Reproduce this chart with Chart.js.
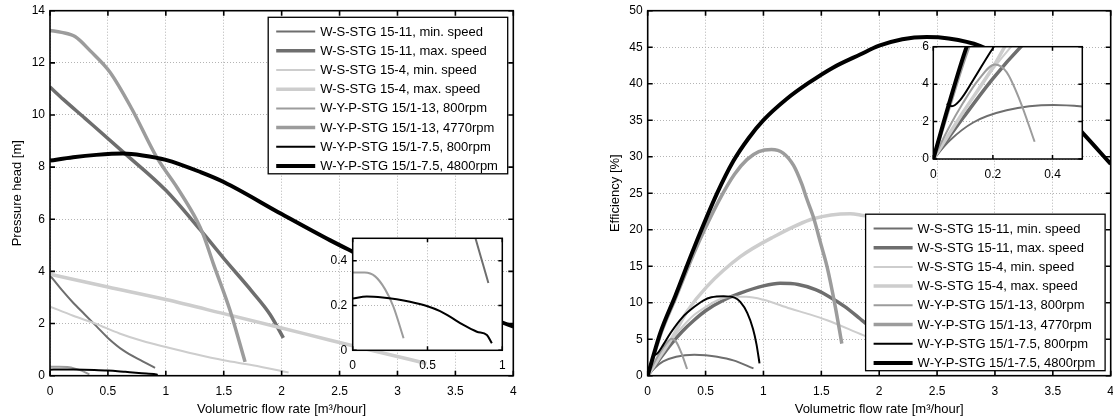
<!DOCTYPE html>
<html>
<head>
<meta charset="utf-8">
<script src="https://cdn.jsdelivr.net/npm/chart.js@4/dist/chart.umd.min.js"></script>
<style>
  body { margin: 0; background: #fff; width: 1113px; height: 419px; position: relative; overflow: hidden; }
  canvas { position: absolute; }
  #head { left: 0; top: 0; }
  #eff { left: 556px; top: 0; }
  #headInset { left: 322px; top: 230px; }
  #effInset { left: 900px; top: 38px; }
</style>
</head>
<body>
<canvas id="head" width="556" height="419"></canvas>
<canvas id="eff" width="557" height="419"></canvas>
<canvas id="headInset" width="190" height="145"></canvas>
<canvas id="effInset" width="195" height="150"></canvas>
<script>
// pump names (legend entries)
const seriesLabels = [
    'W-S-STG 15-11, min. speed',
    'W-S-STG 15-11, max. speed',
    'W-S-STG 15-4, min. speed',
    'W-S-STG 15-4, max. speed',
    'W-Y-P-STG 15/1-13, 800rpm',
    'W-Y-P-STG 15/1-13, 4770rpm',
    'W-Y-P-STG 15/1-7.5, 800rpm',
    'W-Y-P-STG 15/1-7.5, 4800rpm'
];

// pressure head [m] vs flow [m3/h] as [flow, head]
const headS1 = [[0,3.85],[0.1,3.3],[0.2,2.8],[0.3,2.35],[0.4,1.9],[0.5,1.45],[0.633,0.97],[0.8,0.55],[0.907,0.3]];
const headS2 = [[0,11.07],[0.115,10.6],[0.3,9.88],[0.65,8.51],[1.0,7.11],[1.3,5.58],[1.5,4.5],[1.75,3.2],[1.9,2.35],[2.015,1.45]];
const headS3 = [[0,2.65],[0.2,2.3],[0.39,2.0],[0.6,1.62],[0.8,1.33],[1.0,1.1],[1.25,0.83],[1.5,0.59],[1.75,0.4],[2.06,0.12]];
const headS4 = [[0,3.89],[0.5,3.4],[1.0,2.92],[1.5,2.38],[2.0,1.83],[2.42,1.36],[2.8,0.95],[3.25,0.47]];
const headS5 = [[0,0.347],[0.08,0.347],[0.15,0.33],[0.217,0.272],[0.272,0.195],[0.34,0.054]];
const headS6 = [[0,13.24],[0.1,13.17],[0.216,13.01],[0.35,12.45],[0.518,11.64],[0.706,10.24],[0.921,8.38],[1.1,7.2],[1.267,5.96],[1.324,5.4],[1.41,4.3],[1.554,2.51],[1.684,0.53]];
const headS7 = [[0,0.231],[0.094,0.24],[0.2,0.236],[0.294,0.228],[0.383,0.217],[0.495,0.198],[0.584,0.175],[0.65,0.15],[0.74,0.113],[0.83,0.083],[0.897,0.068],[0.93,0.031]];
const headS8 = [[0,8.25],[0.2,8.38],[0.4,8.47],[0.63,8.52],[0.8,8.45],[1.0,8.28],[1.3,7.81],[1.5,7.43],[2.0,6.2],[2.42,5.19],[2.62,4.74],[3.0,3.9],[3.5,2.85],[3.9,2.05],[4.0,1.88]];

// efficiency [%] vs flow [m3/h]
const effS1 = [[0,0],[0.056,1.0],[0.134,1.95],[0.246,2.6],[0.403,2.88],[0.5,2.8],[0.6,2.6],[0.74,2.1],[0.914,1.0]];
const effS2 = [[0,0],[0.1,2.2],[0.2,4.3],[0.3,6.1],[0.4,7.6],[0.5,8.9],[0.65,10.3],[0.8,11.3],[1.0,12.3],[1.144,12.65],[1.3,12.5],[1.45,11.8],[1.55,11.0],[1.7,9.5],[1.835,7.8],[1.95,6.3],[2.02,5.3]];
const effS3 = [[0,0],[0.1,2.5],[0.2,4.8],[0.3,6.7],[0.4,8.3],[0.5,9.4],[0.6,10.3],[0.712,10.8],[0.85,10.8],[1.0,10.4],[1.23,9.2],[1.4,8.4],[1.55,7.6],[1.86,5.56],[2.06,4.3]];
const effS4 = [[0,0],[0.1,2.5],[0.2,4.9],[0.34,8.8],[0.511,12.2],[0.8,16.3],[1.086,19.0],[1.43,21.5],[1.75,22.2],[1.86,21.95],[2.0,21.6],[2.3,20.3],[2.6,18.0],[2.9,14.5],[3.25,9.0]];
const effS5 = [[0,0],[0.05,1.6],[0.1,3.0],[0.15,4.2],[0.207,5.05],[0.246,4.64],[0.29,3.15],[0.34,0.92]];
const effS6 = [[0,0],[0.05,2.6],[0.112,5.7],[0.24,10.6],[0.4,16.8],[0.5,20.3],[0.626,24.3],[0.75,27.6],[0.857,29.6],[0.96,30.7],[1.07,31.0],[1.17,30.5],[1.26,28.8],[1.33,26.3],[1.375,24.2],[1.43,21.8],[1.5,17.8],[1.55,14.9],[1.62,9.5],[1.677,4.4]];
const effS7 = [[0.045,2.96],[0.062,2.82],[0.09,3.15],[0.134,4.22],[0.2,5.92],[0.3,8.0],[0.4,9.4],[0.48,10.3],[0.55,10.75],[0.655,10.9],[0.75,10.7],[0.8,10.1],[0.86,8.6],[0.91,6.4],[0.94,4.3],[0.966,1.7]];
const effS8 = [[0,0],[0.05,2.8],[0.112,6],[0.24,11],[0.4,17.5],[0.6,25],[0.74,29.4],[0.87,32.5],[1.0,35],[1.2,37.9],[1.39,40.1],[1.6,42.2],[1.835,44],[2.0,45.2],[2.2,46.1],[2.41,46.4],[2.6,46.2],[2.87,45.2],[3.1,43.2],[3.4,39.2],[3.755,33.3],[4.0,29.0]];

// tick labels
const flowTicks = [0, 0.5, 1, 1.5, 2, 2.5, 3, 3.5, 4];
const headTicks = [0, 2, 4, 6, 8, 10, 12, 14];
const effTicks = [0, 5, 10, 15, 20, 25, 30, 35, 40, 45, 50];
const headInsetFlowTicks = [0, 0.5, 1];
const headInsetTicks = [0, 0.2, 0.4];
const effInsetFlowTicks = [0, 0.2, 0.4];
const effInsetTicks = [0, 2, 4, 6];

const headSeries = [headS1, headS2, headS3, headS4, headS5, headS6, headS7, headS8];
const effSeries = [effS1, effS2, effS3, effS4, effS5, effS6, effS7, effS8];

const FONT = '"Liberation Sans", Arial, Helvetica, sans-serif';
const GRID = '#b4b4b4';
const lineColors = ['#6e6e6e', '#6e6e6e', '#cdcdcd', '#cdcdcd', '#9c9c9c', '#9c9c9c', '#000000', '#000000'];
const lineWidths = [2, 3.5, 2, 3.5, 2, 3.5, 2, 4];

function makeDatasets(series, clip) {
    return series.map((pts, i) => ({
        label: seriesLabels[i],
        data: pts.map(p => ({ x: p[0], y: p[1] })),
        showLine: true,
        borderColor: lineColors[i],
        borderWidth: lineWidths[i],
        pointRadius: 0,
        fill: false,
        cubicInterpolationMode: 'monotone',
        order: series.length - i,
        clip: clip
    }));
}

function axis(min, max, ticks, o) {
    return {
        type: 'linear',
        min: min,
        max: max,
        afterBuildTicks: s => { s.ticks = ticks.map(v => ({ value: v })); },
        grid: { color: GRID, lineWidth: 1, drawTicks: false },
        border: { display: false, dash: [1, 2] },
        ticks: {
            color: '#000', padding: o.pad, font: { family: FONT, size: 12 },
            maxRotation: 0, autoSkip: false,
            callback: v => String(v)
        },
        title: o.title
            ? { display: true, text: o.title, color: '#000', font: { family: FONT, size: 13 }, padding: o.tpad }
            : { display: false },
        afterFit: s => {
            if (s.isHorizontal()) s.height = o.size; else s.width = o.size;
            s.paddingLeft = 0; s.paddingRight = 0; s.paddingTop = 0; s.paddingBottom = 0;
        }
    };
}

// black box round the axes with inward tick marks on all four sides
const framePlugin = {
    id: 'frame',
    beforeDraw(chart, args, opts) {
        if (!opts.fill) return;
        const a = chart.chartArea;
        chart.ctx.save();
        chart.ctx.fillStyle = '#fff';
        chart.ctx.fillRect(a.left, a.top, a.width, a.height);
        chart.ctx.restore();
    },
    afterDatasetsDraw(chart, args, opts) {
        const { ctx, chartArea: a, scales: { x, y } } = chart;
        const t = opts.tick;
        ctx.save();
        ctx.strokeStyle = '#000';
        ctx.lineWidth = opts.width;
        ctx.beginPath();
        x.ticks.forEach(tk => {
            const px = x.getPixelForValue(tk.value);
            ctx.moveTo(px, a.bottom); ctx.lineTo(px, a.bottom - t);
            ctx.moveTo(px, a.top); ctx.lineTo(px, a.top + t);
        });
        y.ticks.forEach(tk => {
            const py = y.getPixelForValue(tk.value);
            ctx.moveTo(a.left, py); ctx.lineTo(a.left + t, py);
            ctx.moveTo(a.right, py); ctx.lineTo(a.right - t, py);
        });
        ctx.stroke();
        ctx.strokeRect(a.left, a.top, a.width, a.height);
        ctx.restore();
    }
};

// MATLAB style legend box inside the axes
const boxLegend = {
    id: 'boxLegend',
    afterDraw(chart, args, opts) {
        if (!opts.corner) return;
        const { ctx, chartArea: a } = chart;
        const w = 239.5, h = 156.5;
        const left = a.right - 5.6 - w;
        const top = opts.corner === 'ne' ? a.top + 6.6 : a.bottom - 5 - h;
        ctx.save();
        ctx.fillStyle = '#fff';
        ctx.fillRect(left, top, w, h);
        ctx.strokeStyle = '#000';
        ctx.lineWidth = 1.3;
        ctx.strokeRect(left, top, w, h);
        ctx.font = '13px ' + FONT;
        ctx.textBaseline = 'middle';
        chart.data.datasets.forEach((ds, i) => {
            const yy = top + 14.3 + i * 19.2;
            ctx.beginPath();
            ctx.strokeStyle = ds.borderColor;
            ctx.lineWidth = ds.borderWidth;
            ctx.moveTo(left + 8, yy);
            ctx.lineTo(left + 47, yy);
            ctx.stroke();
            ctx.fillStyle = '#000';
            ctx.fillText(ds.label, left + 52, yy + 0.5);
        });
        ctx.restore();
    }
};

function makeChart(id, datasets, xAxis, yAxis, padding, frame, corner) {
    return new Chart(document.getElementById(id), {
        type: 'scatter',
        data: { datasets: datasets },
        options: {
            responsive: false,
            animation: false,
            devicePixelRatio: 1,
            locale: 'en-US',
            events: [],
            layout: { padding: padding },
            scales: { x: xAxis, y: yAxis },
            plugins: {
                legend: { display: false },
                tooltip: { enabled: false },
                frame: frame,
                boxLegend: { corner: corner }
            }
        },
        plugins: [framePlugin, boxLegend]
    });
}

const xTitle = 'Volumetric flow rate [m³/hour]';

makeChart('head', makeDatasets(headSeries, undefined),
    axis(0, 4, flowTicks, { pad: 8.8, size: 43.3, title: xTitle, tpad: { top: 0, bottom: 2.2 } }),
    axis(0, 14, headTicks, { pad: 5, size: 50, title: 'Pressure head [m]', tpad: { top: 10, bottom: 0 } }),
    { top: 10.7, right: 42.7, bottom: 0, left: 0 },
    { width: 1.6, tick: 5, fill: false }, 'ne');

makeChart('eff', makeDatasets(effSeries, undefined),
    axis(0, 4, flowTicks, { pad: 8.8, size: 43.3, title: xTitle, tpad: { top: 0, bottom: 2.2 } }),
    axis(0, 50, effTicks, { pad: 5, size: 91.7, title: 'Efficiency [%]', tpad: { top: 52, bottom: 0 } }),
    { top: 10.7, right: 2.3, bottom: 0, left: 0 },
    { width: 1.6, tick: 5, fill: false }, 'se');

makeChart('headInset', makeDatasets(headSeries, 0),
    axis(0, 1, headInsetFlowTicks, { pad: 8.2, size: 24.7 }),
    axis(0, 0.5, headInsetTicks, { pad: 5.5, size: 30.7 }),
    { top: 8.3, right: 9.7, bottom: 0, left: 0 },
    { width: 1.5, tick: 4, fill: true }, null);

makeChart('effInset', makeDatasets(effSeries, 0),
    axis(0, 0.5, effInsetFlowTicks, { pad: 8.8, size: 29 }),
    axis(0, 6, effInsetTicks, { pad: 4.5, size: 33.3 }),
    { top: 8.7, right: 12.7, bottom: 0, left: 0 },
    { width: 1.5, tick: 4, fill: true }, null);
</script>
</body>
</html>
